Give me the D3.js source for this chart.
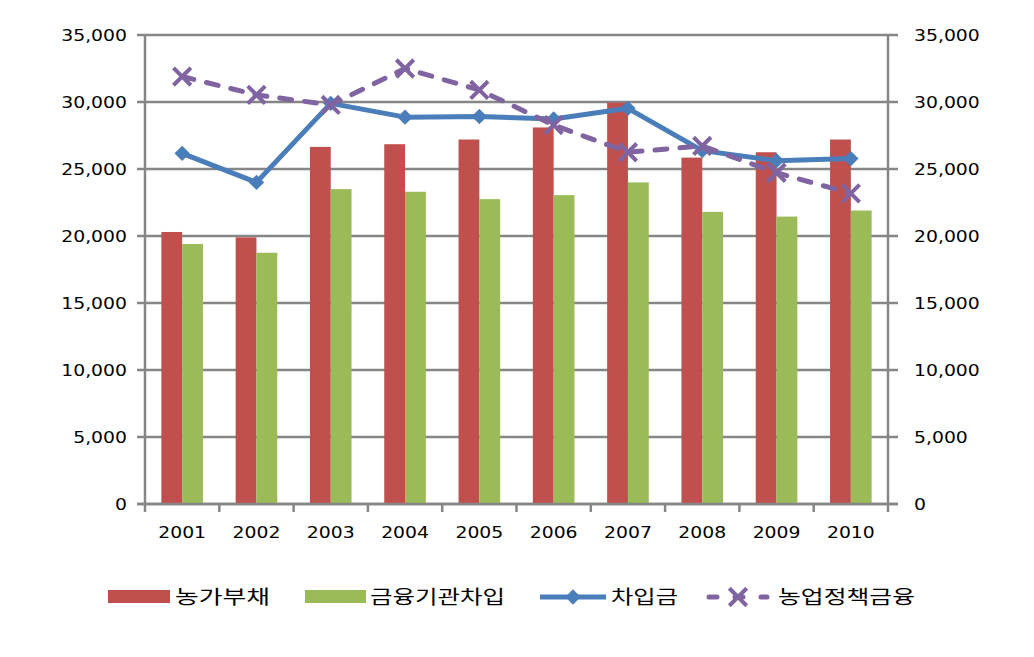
<!DOCTYPE html>
<html><head><meta charset="utf-8">
<script src="https://cdn.jsdelivr.net/npm/d3@7"></script>
<style>body{margin:0;background:#fff}svg{display:block}</style>
</head><body>
<script>
const years = ["2001","2002","2003","2004","2005","2006","2007","2008","2009","2010"];
const farmDebt = [20300,19900,26650,26850,27200,28100,29950,25850,26250,27200];      // 농가부채
const finLoan  = [19400,18750,23500,23300,22750,23050,24000,21800,21450,21900];      // 금융기관차입
const borrow   = [26170,24000,29900,28870,28920,28730,29530,26370,25620,25780];      // 차입금
const policy   = [31900,30530,29780,32500,30900,28280,26250,26720,24720,23180];      // 농업정책금융
const yTicks   = [0,5000,10000,15000,20000,25000,30000,35000];
const seriesNames = ["농가부채","금융기관차입","차입금","농업정책금융"];
const colors = ["#C0504D","#9BBB59","#4A7EBB","#8064A2"];

const W=1034,H=657;
const L=145,R=888,T=35,B=504;
const svg=d3.select("body").append("svg").attr("width",W).attr("height",H);
const x=d3.scaleBand().domain(years).range([L,R]);
const y=d3.scaleLinear().domain([0,35000]).range([B,T]);
const grey="#868686";
const fmt=d3.format(",");
const numFont="'DejaVu Sans', Verdana, sans-serif";

// gridlines
svg.append("g").selectAll("line").data(yTicks).join("line")
  .attr("x1",L-8).attr("x2",R+10).attr("y1",d=>y(d)).attr("y2",d=>y(d))
  .attr("stroke",grey).attr("stroke-width",2.5);

// left axis
const gl=svg.append("g").attr("transform",`translate(${L},0)`).call(d3.axisLeft(y).tickValues(yTicks).tickFormat(fmt).tickSize(0).tickPadding(18));
gl.select(".domain").attr("stroke",grey).attr("stroke-width",2.5).attr("d",`M0,${T}V${B+8}`);
gl.selectAll("text").attr("font-family",numFont).attr("font-size",16.5).attr("fill","#000")
  .attr("transform","translate(-18,0) scale(1.14,1) translate(18,0)");

// right axis
const gr=svg.append("g").attr("transform",`translate(${R},0)`).call(d3.axisRight(y).tickValues(yTicks).tickFormat(fmt).tickSize(0).tickPadding(26));
gr.select(".domain").attr("stroke",grey).attr("stroke-width",2.5).attr("d",`M0,${T}V${B+8}`);
gr.selectAll("text").attr("font-family",numFont).attr("font-size",16.5).attr("fill","#000")
  .attr("transform","translate(26,0) scale(1.14,1) translate(-26,0)");

// bottom axis
const gb=svg.append("g").attr("transform",`translate(0,${B})`).call(d3.axisBottom(x).tickSize(0).tickPadding(22));
gb.select(".domain").remove();
gb.selectAll("text").attr("font-family",numFont).attr("font-size",16.5).attr("fill","#000")
  .attr("transform","scale(1.14,1)");
// ticks between categories
const tickX=years.map(d=>x(d)).concat([R]);
svg.append("g").selectAll("line").data(tickX.slice(1,-1)).join("line")
  .attr("x1",d=>d).attr("x2",d=>d).attr("y1",B).attr("y2",B+8)
  .attr("stroke",grey).attr("stroke-width",2.5);

// bars
const bw=x.bandwidth()*0.28;
const cx=d=>x(d)+x.bandwidth()/2;
svg.append("g").selectAll("rect").data(years).join("rect")
  .attr("x",d=>cx(d)-bw).attr("width",bw).attr("y",(d,i)=>y(farmDebt[i])).attr("height",(d,i)=>B-y(farmDebt[i]))
  .attr("fill",colors[0]);
svg.append("g").selectAll("rect").data(years).join("rect")
  .attr("x",d=>cx(d)).attr("width",bw).attr("y",(d,i)=>y(finLoan[i])).attr("height",(d,i)=>B-y(finLoan[i]))
  .attr("fill",colors[1]);

// redraw baseline over bars
svg.append("line").attr("x1",L-8).attr("x2",R+10).attr("y1",B).attr("y2",B).attr("stroke",grey).attr("stroke-width",2.5);

// blue line
const line=d3.line().x((d,i)=>cx(years[i])).y(d=>y(d));
svg.append("path").datum(borrow).attr("d",line).attr("fill","none").attr("stroke",colors[2]).attr("stroke-width",5).attr("stroke-linejoin","round");
const diamond=d3.symbol().type(d3.symbolDiamond2).size(150);
svg.append("g").selectAll("path").data(borrow).join("path")
  .attr("d",diamond).attr("transform",(d,i)=>`translate(${cx(years[i])},${y(d)})`)
  .attr("fill",colors[2]);

// purple dashed
const times=d3.symbol().type(d3.symbolTimes).size(200);
svg.append("path").datum(policy).attr("d",line).attr("fill","none").attr("stroke",colors[3]).attr("stroke-width",5)
  .attr("stroke-dasharray","12,13").attr("stroke-linecap","round");
svg.append("g").selectAll("path").data(policy).join("path")
  .attr("d",times).attr("transform",(d,i)=>`translate(${cx(years[i])},${y(d)})`)
  .attr("fill","none").attr("stroke",colors[3]).attr("stroke-width",4);

// legend
const lg=svg.append("g").attr("font-family","'Noto Sans CJK KR', sans-serif").attr("font-size",19);
const ly=597;
lg.append("rect").attr("x",108).attr("y",590).attr("width",62).attr("height",13).attr("fill",colors[0]);
lg.append("rect").attr("x",305).attr("y",590).attr("width",61).attr("height",13).attr("fill",colors[1]);
lg.append("line").attr("x1",540).attr("x2",606).attr("y1",ly).attr("y2",ly).attr("stroke",colors[2]).attr("stroke-width",5);
lg.append("path").attr("d",diamond).attr("transform",`translate(573,${ly})`).attr("fill",colors[2]);
lg.append("line").attr("x1",709).attr("x2",767).attr("y1",ly).attr("y2",ly).attr("stroke",colors[3]).attr("stroke-width",5)
  .attr("stroke-dasharray","8,18").attr("stroke-linecap","round");
lg.append("path").attr("d",times).attr("transform",`translate(738,${ly})`).attr("fill","none").attr("stroke",colors[3]).attr("stroke-width",4);
const lx=[175,370,611,778];
const lw=[95,135,67,137];
seriesNames.forEach((n,i)=>{
  lg.append("text").attr("x",lx[i]).attr("y",ly).attr("dy","0.36em").attr("textLength",lw[i]).attr("lengthAdjust","spacingAndGlyphs").text(n);
});
</script>
</body></html>
